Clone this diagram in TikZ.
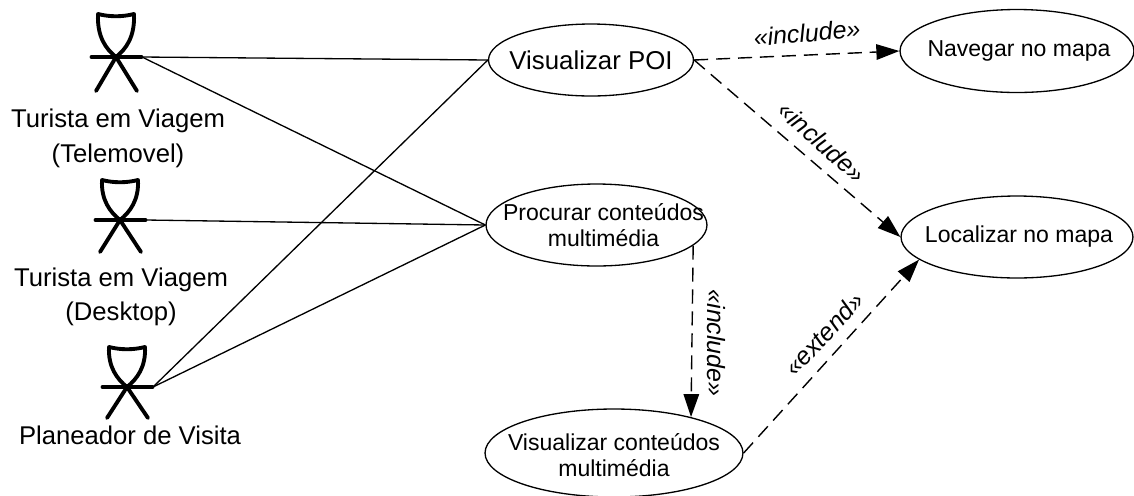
\documentclass[tikz,border=0pt]{standalone}
\usepackage{fontspec}
\setmainfont{Liberation Sans}
\usetikzlibrary{arrows.meta}
\usetikzlibrary{shapes.geometric}

\begin{document}
\begin{tikzpicture}[x=0.02cm,y=-0.02cm]
	\tikzset{
		usecase/.style={draw,ellipse,line width=0.75pt,inner sep=0},
		usetext/.style={align=center,inner sep=0,font=\fontsize{13.1}{14.7}\selectfont},
		%
		actorline/.style={line width=2.2pt,line cap=round,line join=round},
		actortext/.style={usetext,font=\fontsize{14.6}{18}\selectfont},
		%
		assoc/.style={line width=0.75pt},
		dep/.style={line width=0.8pt,dash pattern=on 8pt off 4.5pt,-{Triangle[length=0.46cm,width=0.31cm]}},
		stereo/.style={inner sep=0,font=\fontsize{14.2}{16}\selectfont\itshape}
	}
	
	\clip (0,0) rectangle (1134,495);
	
	\foreach \name/\x/\y/\headtop/\legend in {tele/116/57/43/34, desk/120/220/40/32, plan/127/387/40/31}{
		\begin{scope}[shift={(\x,\y)}]
		\draw[actorline] (-18,-\headtop) .. controls (-6,-\headtop+3) and (6,-\headtop+3) .. (18,-\headtop)
			.. controls (19,-20) and (10,-8) .. (0,0) .. controls (-10,-8) and (-19,-20) .. cycle;
		\draw[actorline] (-24.5,0) -- (25.5,0);
		\draw[actorline] (-20,\legend) -- (0,0) -- (21,\legend);
		\coordinate (\name) at (26,0);
		\end{scope}
	}
	
	\node[actortext] (teletext) at (118,138) {Turista em Viagem\\[2pt](Telemovel)};
	\node[actortext] (desktext) at (121,297) {Turista em Viagem\\[1pt](Desktop)};
	\node[actortext] (plantext) at (130,435) {Planeador de Visita};
	
	\node[usecase,minimum width=4.1cm,minimum height=1.44cm,label={[usetext,font=\fontsize{14.7}{16}\selectfont]center:Visualizar POI}] (poi) at (591,60) {};
	\node[usecase,minimum width=4.68cm,minimum height=1.66cm,label={[usetext,xshift=0.04cm]center:Navegar no mapa}] (navegar) at (1017,51) {};
	\node[usecase,minimum width=4.64cm,minimum height=1.64cm,label={[usetext,xshift=0.04cm]center:Localizar no mapa}] (localizar) at (1017,237) {};
	\node[usecase,minimum width=4.42cm,minimum height=1.64cm,label={[usetext,xshift=0.14cm]center:Procurar conteúdos\\multimédia}] (procurar) at (596.5,225) {};
	\node[usecase,minimum width=5.16cm,minimum height=1.76cm,label={[usetext,yshift=-0.04cm]center:Visualizar conteúdos\\multimédia}] (conteudos) at (614,453) {};
	
	\foreach \from/\to in {tele/poi, tele/procurar, desk/procurar, plan/poi, plan/procurar}
	\draw[assoc] (\from) -- (\to.west);
	
	\draw[dep] (poi.east) -- (navegar.west);
	\draw[dep] (poi.east) -- (localizar.west);
	\draw[dep] (procurar.-12) -- (conteudos.25);
	\draw[dep] (conteudos.east) -- (localizar.-167);
	
	\node[stereo,rotate=5] (inclnav) at (807,33) {«include»};
	\node[stereo,rotate=-42] (incloc) at (822,142) {«include»};
	\node[stereo,rotate=-90] (inccon) at (716,343) {«include»};
	\node[stereo,rotate=47] (extloc) at (824,334) {«extend»};
\end{tikzpicture}
\end{document}
